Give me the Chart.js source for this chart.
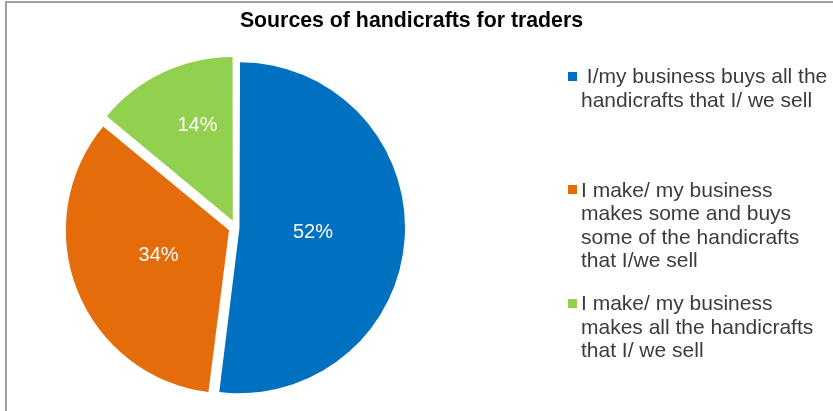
<!DOCTYPE html>
<html>
<head>
<meta charset="utf-8">
<title>Sources of handicrafts for traders</title>
<script src="https://cdn.jsdelivr.net/npm/chart.js@4.4.1/dist/chart.umd.min.js"></script>
<style>
  html, body {
    margin: 0;
    padding: 0;
    background: #ffffff;
    overflow: hidden;
  }
  #frame {
    position: absolute;
    left: 5px;
    top: 1px;
    width: 900px;
    height: 500px;
    border-left: 2px solid #a0a0a0;
    border-top: 2px solid #a0a0a0;
  }
  #chart {
    position: absolute;
    left: 0;
    top: 0;
  }
  #title {
    position: absolute;
    left: 0;
    width: 823px;
    top: 8px;
    text-align: center;
    font: bold 21.3px "Liberation Sans", Arial, sans-serif;
    line-height: 24px;
    color: #000000;
  }
  #legend {
    position: absolute;
    left: 568px;
    top: 64px;
    font: 21px "Liberation Sans", Arial, sans-serif;
    line-height: 23.6px;
    color: #3c3c3c;
  }
  .legend-item {
    position: relative;
    height: 113.5px;
  }
  .legend-box {
    position: absolute;
    left: 0;
    top: 7.5px;
    width: 9px;
    height: 9px;
  }
  .legend-text {
    position: absolute;
    left: 13px;
    top: 0;
    white-space: pre;
  }
</style>
</head>
<body>
<div id="frame"></div>
<canvas id="chart" width="833" height="411"></canvas>
<div id="title">Sources of handicrafts for traders</div>
<div id="legend"></div>

<script>
// categories, one entry per line of the legend text
const categories = [
  [' I/my business buys all the', 'handicrafts that I/ we sell'],
  ['I make/ my business', 'makes some and buys', 'some of the handicrafts', 'that I/we sell'],
  ['I make/ my business', 'makes all the handicrafts', 'that I/ we sell']
];
const shares = [52, 34, 14];   // percent of traders
const sliceColors = ['#0070C0', '#E46C0A', '#92D050'];
const sliceOffsets = [14, 30, 30];

// white percentage labels inside each slice
const sliceLabels = {
  id: 'sliceLabels',
  afterDatasetsDraw(chart, args, opts) {
    const ctx = chart.ctx;
    const meta = chart.getDatasetMeta(0);
    const values = chart.data.datasets[0].data;
    ctx.save();
    ctx.font = opts.font;
    ctx.fillStyle = opts.color;
    ctx.textAlign = 'center';
    ctx.textBaseline = 'middle';
    meta.data.forEach((arc, i) => {
      const p = arc.getProps(['x', 'y', 'startAngle', 'endAngle', 'outerRadius'], true);
      const mid = (p.startAngle + p.endAngle) / 2;
      const shift = (arc.options.offset || 0) / 4;
      const a = mid + (opts.turn[i] || 0) * Math.PI / 180;
      const r = p.outerRadius * opts.place[i];
      const x = p.x + Math.cos(mid) * shift + Math.cos(a) * r;
      const y = p.y + Math.sin(mid) * shift + Math.sin(a) * r;
      ctx.fillText(values[i] + '%', x, y);
    });
    ctx.restore();
  }
};

const chart = new Chart(document.getElementById('chart'), {
  type: 'pie',
  data: {
    labels: categories,
    datasets: [{
      data: shares,
      backgroundColor: sliceColors,
      borderWidth: 0,
      offset: sliceOffsets,
      hoverOffset: 0
    }]
  },
  options: {
    responsive: false,
    animation: false,
    radius: 162,
    layout: {
      padding: { left: 60, right: 421, top: 50, bottom: 6 }
    },
    plugins: {
      legend: { display: false },
      title: { display: false },
      tooltip: { enabled: false },
      sliceLabels: {
        font: '20px "Liberation Sans", Arial, sans-serif',
        color: '#ffffff',
        place: [0.454, 0.463, 0.627],
        turn: [0, 1.6, 4.8]
      }
    }
  },
  plugins: [sliceLabels]
});

// html legend with wrapped entries
const legendEl = document.getElementById('legend');
chart.data.labels.forEach((lines, i) => {
  const item = document.createElement('div');
  item.className = 'legend-item';
  const box = document.createElement('span');
  box.className = 'legend-box';
  box.style.background = sliceColors[i];
  const text = document.createElement('span');
  text.className = 'legend-text';
  text.textContent = lines.join('\n');
  item.appendChild(box);
  item.appendChild(text);
  legendEl.appendChild(item);
});
</script>
</body>
</html>
